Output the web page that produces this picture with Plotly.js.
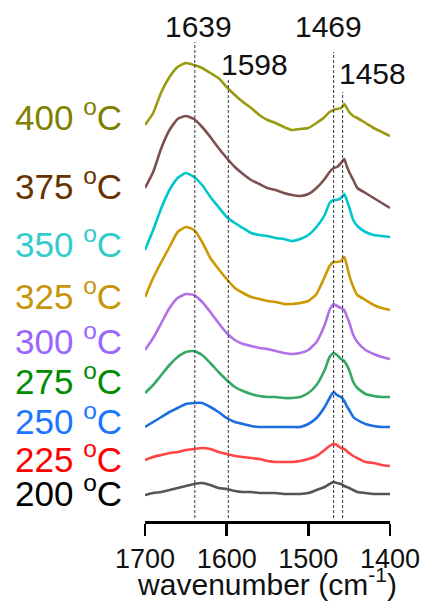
<!DOCTYPE html>
<html>
<head>
<meta charset="utf-8">
<script src="https://cdn.plot.ly/plotly-3.0.1.min.js"></script>
<style>html,body{margin:0;padding:0;background:#fff;}#chart{width:427px;height:601px;}</style>
</head>
<body>
<div id="chart"></div>
<script>
// wavenumber (cm-1)
var wavenumber = [1700,1690,1680,1670,1660,1650,1640,1630,1620,1610,1600,1590,1580,1570,1560,1550,1540,1530,1520,1510,1500,1490,1480,1474,1469,1465,1460,1456,1453,1450,1445,1440,1430,1420,1410,1400];

// stacked spectra (a.u., with vertical offset)
var s400 = [3.96,4.08,4.29,4.44,4.54,4.58,4.56,4.53,4.48,4.43,4.34,4.26,4.19,4.13,4.06,4.01,3.98,3.94,3.91,3.92,3.93,3.98,4.04,4.09,4.11,4.12,4.13,4.17,4.13,4.09,4.05,4.03,3.98,3.93,3.89,3.85];
var s375 = [3.33,3.49,3.73,3.91,4.02,4.05,4.02,3.94,3.84,3.73,3.63,3.54,3.47,3.41,3.37,3.33,3.31,3.28,3.26,3.25,3.27,3.33,3.42,3.49,3.53,3.54,3.58,3.62,3.55,3.49,3.41,3.33,3.28,3.23,3.18,3.13];
var s350 = [2.71,2.91,3.13,3.31,3.43,3.48,3.44,3.36,3.24,3.14,3.04,2.98,2.93,2.88,2.86,2.85,2.83,2.82,2.80,2.82,2.86,2.94,3.06,3.18,3.21,3.21,3.23,3.27,3.21,3.14,3.01,2.95,2.89,2.86,2.85,2.84];
var s325 = [2.24,2.43,2.59,2.74,2.89,2.94,2.91,2.79,2.63,2.52,2.42,2.33,2.28,2.24,2.22,2.20,2.19,2.17,2.17,2.18,2.20,2.27,2.44,2.55,2.59,2.59,2.60,2.64,2.56,2.46,2.34,2.26,2.21,2.16,2.13,2.11];
var s300 = [1.71,1.83,1.98,2.13,2.23,2.27,2.26,2.19,2.09,1.98,1.88,1.81,1.77,1.75,1.73,1.72,1.70,1.68,1.67,1.68,1.71,1.79,1.96,2.11,2.17,2.15,2.13,2.11,2.05,1.99,1.86,1.79,1.71,1.67,1.64,1.62];
var s275 = [1.28,1.36,1.46,1.56,1.64,1.69,1.70,1.66,1.58,1.49,1.41,1.34,1.30,1.27,1.25,1.24,1.24,1.23,1.23,1.24,1.28,1.36,1.51,1.64,1.68,1.66,1.62,1.60,1.56,1.51,1.39,1.33,1.27,1.25,1.24,1.24];
var s250 = [0.94,0.99,1.04,1.09,1.13,1.17,1.18,1.18,1.14,1.09,1.03,0.99,0.97,0.95,0.94,0.94,0.94,0.94,0.94,0.94,0.97,1.03,1.14,1.23,1.29,1.26,1.24,1.20,1.15,1.11,1.04,1.01,0.97,0.95,0.94,0.94];
var s225 = [0.61,0.64,0.66,0.68,0.69,0.71,0.72,0.73,0.72,0.69,0.67,0.65,0.64,0.63,0.62,0.60,0.59,0.59,0.59,0.60,0.62,0.65,0.71,0.75,0.77,0.76,0.73,0.72,0.70,0.68,0.65,0.63,0.59,0.58,0.56,0.55];
var s200 = [0.26,0.28,0.29,0.31,0.33,0.35,0.37,0.38,0.36,0.33,0.32,0.30,0.29,0.29,0.28,0.28,0.28,0.27,0.27,0.27,0.28,0.31,0.34,0.37,0.39,0.38,0.37,0.35,0.34,0.33,0.31,0.29,0.28,0.27,0.27,0.27];

var temperatures = ["400","375","350","325","300","275","250","225","200"];
var peakPositions = [1639, 1598, 1469, 1458];
var peakLabels = ["1639", "1598", "1469", "1458"];
var tickValues = [1700, 1600, 1500, 1400];
var tickLabels = ["1700", "1600", "1500", "1400"];

// styles / layout helpers
var series = [s400, s375, s350, s325, s300, s275, s250, s225, s200];
var lineColors = ["#9a9a10","#7d5050","#00c6cc","#cc9900","#b070e6","#35a865","#1a6ee0","#ff4545","#555555"];
var labelColors = ["#808000","#663300","#33cccc","#c8960c","#9966ff","#008c00","#1a75ff","#ff0000","#000000"];
var labelY = [4.06, 3.375, 2.795, 2.275, 1.825, 1.425, 1.025, 0.645, 0.305];
var peakLineTop = [4.79, 4.41, 4.69, 4.29];
var peakTextY = [1.029, 0.950, 1.028, 0.931];   // paper fraction
var peakTextShift = [4, 26, -5, 30];

var traces = series.map(function (s, i) {
  return {
    x: wavenumber, y: s, type: "scatter", mode: "lines",
    line: {color: lineColors[i], width: 2.6, shape: "spline", smoothing: 0.5},
    hoverinfo: "skip", showlegend: false
  };
});

var shapes = peakPositions.map(function (p, i) {
  return {type: "line", xref: "x", yref: "y", x0: p, x1: p, y0: 0.03, y1: peakLineTop[i],
          line: {color: "#333333", width: 1, dash: "3px,2px"}};
});

var annotations = [];
peakPositions.forEach(function (p, i) {
  annotations.push({xref: "x", yref: "paper", x: p, y: peakTextY[i], text: peakLabels[i],
    showarrow: false, xanchor: "center", yanchor: "middle", xshift: peakTextShift[i],
    font: {family: "Liberation Sans, Arial, sans-serif", size: 30, color: "#111111"}});
});
temperatures.forEach(function (t, i) {
  annotations.push({xref: "paper", yref: "y", x: -0.539, y: labelY[i],
    text: t + " <sup>o</sup>C", showarrow: false, xanchor: "left", yanchor: "middle",
    font: {family: "Liberation Sans, Arial, sans-serif", size: 35, color: labelColors[i]}});
});

var layout = {
  width: 427, height: 601,
  margin: {l: 145, r: 37, t: 40, b: 80, pad: 0},
  paper_bgcolor: "#ffffff", plot_bgcolor: "#ffffff",
  showlegend: false,
  xaxis: {
    range: [1700, 1400], tickmode: "array", tickvals: tickValues, ticktext: tickLabels,
    ticks: "outside", ticklen: 12, tickwidth: 2.5, tickcolor: "#000000",
    showline: true, linewidth: 2.5, linecolor: "#000000", showgrid: false, zeroline: false,
    tickfont: {family: "Liberation Sans, Arial, sans-serif", size: 27, color: "#111111"},
    title: {text: "wavenumber (cm<sup>-1</sup>)", standoff: 2,
            font: {family: "Liberation Sans, Arial, sans-serif", size: 30, color: "#111111"}},
    fixedrange: true
  },
  yaxis: {range: [0, 4.81], visible: false, fixedrange: true},
  shapes: shapes,
  annotations: annotations
};

Plotly.newPlot("chart", traces, layout, {staticPlot: true, displayModeBar: false});
</script>
</body>
</html>
